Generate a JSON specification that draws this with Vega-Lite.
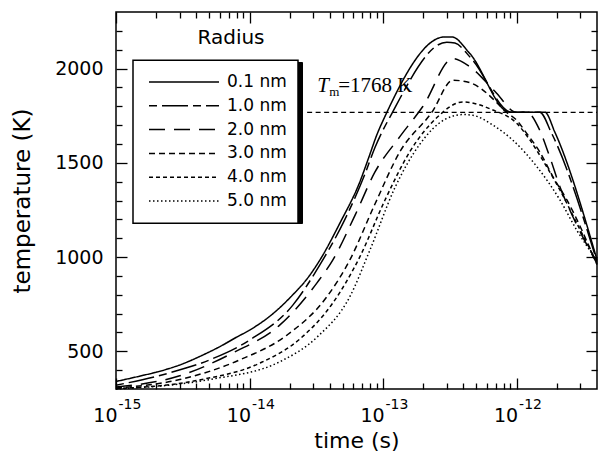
{
  "$schema": "https://vega.github.io/schema/vega-lite/v6.json",
  "width": 481,
  "height": 377,
  "autosize": {"type": "none"},
  "padding": {"left": 116, "top": 12, "right": 4, "bottom": 66},
  "background": "white",
  "config": {
    "view": {"stroke": "black", "strokeWidth": 1.5},
    "font": "DejaVu Sans",
    "axis": {"labelFont": "DejaVu Sans", "titleFont": "DejaVu Sans", "labelColor": "black", "titleColor": "black", "tickColor": "black", "tickWidth": 1.3, "domain": false, "grid": false, "labelFlush": false, "labelOverlap": false, "labelBound": false},
    "legend": {"labelFont": "DejaVu Sans", "titleFont": "DejaVu Sans", "labelColor": "black", "titleColor": "black"}
  },
  "datasets": {
    "curves": [
      {"radius": "0.1 nm", "time": 1e-15, "temperature": 340},
      {"radius": "0.1 nm", "time": 1.5e-15, "temperature": 368},
      {"radius": "0.1 nm", "time": 2.33e-15, "temperature": 402},
      {"radius": "0.1 nm", "time": 3.2e-15, "temperature": 435},
      {"radius": "0.1 nm", "time": 4.25e-15, "temperature": 473},
      {"radius": "0.1 nm", "time": 6e-15, "temperature": 525},
      {"radius": "0.1 nm", "time": 8e-15, "temperature": 575},
      {"radius": "0.1 nm", "time": 1.01e-14, "temperature": 614},
      {"radius": "0.1 nm", "time": 1.5e-14, "temperature": 700},
      {"radius": "0.1 nm", "time": 2.11e-14, "temperature": 800},
      {"radius": "0.1 nm", "time": 2.7e-14, "temperature": 885},
      {"radius": "0.1 nm", "time": 3.37e-14, "temperature": 985},
      {"radius": "0.1 nm", "time": 4.75e-14, "temperature": 1180},
      {"radius": "0.1 nm", "time": 6.71e-14, "temperature": 1400},
      {"radius": "0.1 nm", "time": 7.83e-14, "temperature": 1530},
      {"radius": "0.1 nm", "time": 9e-14, "temperature": 1650},
      {"radius": "0.1 nm", "time": 1.03e-13, "temperature": 1744},
      {"radius": "0.1 nm", "time": 2.9e-13, "temperature": 2168},
      {"radius": "0.1 nm", "time": 3.27e-13, "temperature": 2168},
      {"radius": "0.1 nm", "time": 4.46e-13, "temperature": 2080},
      {"radius": "0.1 nm", "time": 8.89e-13, "temperature": 1768},
      {"radius": "0.1 nm", "time": 1.63e-12, "temperature": 1768},
      {"radius": "0.1 nm", "time": 1.93e-12, "temperature": 1664},
      {"radius": "0.1 nm", "time": 4e-12, "temperature": 985},

      {"radius": "1.0 nm", "time": 1e-15, "temperature": 320},
      {"radius": "1.0 nm", "time": 2.5e-15, "temperature": 385},
      {"radius": "1.0 nm", "time": 5.05e-15, "temperature": 455},
      {"radius": "1.0 nm", "time": 1.01e-14, "temperature": 561},
      {"radius": "1.0 nm", "time": 2.11e-14, "temperature": 745},
      {"radius": "1.0 nm", "time": 3.37e-14, "temperature": 960},
      {"radius": "1.0 nm", "time": 5.18e-14, "temperature": 1200},
      {"radius": "1.0 nm", "time": 7.31e-14, "temperature": 1440},
      {"radius": "1.0 nm", "time": 8.68e-14, "temperature": 1580},
      {"radius": "1.0 nm", "time": 1.16e-13, "temperature": 1760},
      {"radius": "1.0 nm", "time": 3.0e-13, "temperature": 2140},
      {"radius": "1.0 nm", "time": 3.45e-13, "temperature": 2135},
      {"radius": "1.0 nm", "time": 4.62e-13, "temperature": 2050},
      {"radius": "1.0 nm", "time": 9.21e-13, "temperature": 1768},
      {"radius": "1.0 nm", "time": 1.49e-12, "temperature": 1768},
      {"radius": "1.0 nm", "time": 1.83e-12, "temperature": 1656},
      {"radius": "1.0 nm", "time": 4e-12, "temperature": 975},

      {"radius": "2.0 nm", "time": 1e-15, "temperature": 310},
      {"radius": "2.0 nm", "time": 3e-15, "temperature": 370},
      {"radius": "2.0 nm", "time": 7.51e-15, "temperature": 492},
      {"radius": "2.0 nm", "time": 1.69e-14, "temperature": 640},
      {"radius": "2.0 nm", "time": 3.2e-14, "temperature": 863},
      {"radius": "2.0 nm", "time": 4.21e-14, "temperature": 985},
      {"radius": "2.0 nm", "time": 6.15e-14, "temperature": 1220},
      {"radius": "2.0 nm", "time": 8.68e-14, "temperature": 1450},
      {"radius": "2.0 nm", "time": 1.34e-13, "temperature": 1640},
      {"radius": "2.0 nm", "time": 1.99e-13, "temperature": 1800},
      {"radius": "2.0 nm", "time": 3.33e-13, "temperature": 2053},
      {"radius": "2.0 nm", "time": 4.46e-13, "temperature": 2010},
      {"radius": "2.0 nm", "time": 6.87e-13, "temperature": 1880},
      {"radius": "2.0 nm", "time": 1.0e-12, "temperature": 1768},
      {"radius": "2.0 nm", "time": 1.19e-12, "temperature": 1768},
      {"radius": "2.0 nm", "time": 1.49e-12, "temperature": 1673},
      {"radius": "2.0 nm", "time": 1.77e-12, "temperature": 1532},
      {"radius": "2.0 nm", "time": 2.11e-12, "temperature": 1373},
      {"radius": "2.0 nm", "time": 2.64e-12, "temperature": 1214},
      {"radius": "2.0 nm", "time": 4e-12, "temperature": 965},

      {"radius": "3.0 nm", "time": 1e-15, "temperature": 305},
      {"radius": "3.0 nm", "time": 3e-15, "temperature": 350},
      {"radius": "3.0 nm", "time": 8.48e-15, "temperature": 455},
      {"radius": "3.0 nm", "time": 1.9e-14, "temperature": 585},
      {"radius": "3.0 nm", "time": 3.8e-14, "temperature": 790},
      {"radius": "3.0 nm", "time": 5.64e-14, "temperature": 985},
      {"radius": "3.0 nm", "time": 8.68e-14, "temperature": 1280},
      {"radius": "3.0 nm", "time": 1.34e-13, "temperature": 1560},
      {"radius": "3.0 nm", "time": 2.32e-13, "temperature": 1768},
      {"radius": "3.0 nm", "time": 3.33e-13, "temperature": 1938},
      {"radius": "3.0 nm", "time": 4.46e-13, "temperature": 1925},
      {"radius": "3.0 nm", "time": 6.87e-13, "temperature": 1830},
      {"radius": "3.0 nm", "time": 8.16e-13, "temperature": 1775},
      {"radius": "3.0 nm", "time": 1.0e-12, "temperature": 1726},
      {"radius": "3.0 nm", "time": 1.19e-12, "temperature": 1656},
      {"radius": "3.0 nm", "time": 1.49e-12, "temperature": 1558},
      {"radius": "3.0 nm", "time": 1.87e-12, "temperature": 1426},
      {"radius": "3.0 nm", "time": 2.38e-12, "temperature": 1303},
      {"radius": "3.0 nm", "time": 4e-12, "temperature": 960},

      {"radius": "4.0 nm", "time": 1e-15, "temperature": 302},
      {"radius": "4.0 nm", "time": 4e-15, "temperature": 345},
      {"radius": "4.0 nm", "time": 1.2e-14, "temperature": 438},
      {"radius": "4.0 nm", "time": 2.38e-14, "temperature": 565},
      {"radius": "4.0 nm", "time": 4.21e-14, "temperature": 757},
      {"radius": "4.0 nm", "time": 6.71e-14, "temperature": 1002},
      {"radius": "4.0 nm", "time": 1.03e-13, "temperature": 1300},
      {"radius": "4.0 nm", "time": 1.59e-13, "temperature": 1560},
      {"radius": "4.0 nm", "time": 2.53e-13, "temperature": 1740},
      {"radius": "4.0 nm", "time": 3.96e-13, "temperature": 1823},
      {"radius": "4.0 nm", "time": 6.64e-13, "temperature": 1780},
      {"radius": "4.0 nm", "time": 1.0e-12, "temperature": 1710},
      {"radius": "4.0 nm", "time": 1.26e-12, "temperature": 1620},
      {"radius": "4.0 nm", "time": 1.68e-12, "temperature": 1479},
      {"radius": "4.0 nm", "time": 2.11e-12, "temperature": 1356},
      {"radius": "4.0 nm", "time": 2.82e-12, "temperature": 1180},
      {"radius": "4.0 nm", "time": 4e-12, "temperature": 970},

      {"radius": "5.0 nm", "time": 1e-15, "temperature": 300},
      {"radius": "5.0 nm", "time": 5e-15, "temperature": 350},
      {"radius": "5.0 nm", "time": 1.69e-14, "temperature": 445},
      {"radius": "5.0 nm", "time": 3.2e-14, "temperature": 575},
      {"radius": "5.0 nm", "time": 5.64e-14, "temperature": 790},
      {"radius": "5.0 nm", "time": 7.97e-14, "temperature": 1037},
      {"radius": "5.0 nm", "time": 1.23e-13, "temperature": 1370},
      {"radius": "5.0 nm", "time": 1.89e-13, "temperature": 1600},
      {"radius": "5.0 nm", "time": 2.9e-13, "temperature": 1730},
      {"radius": "5.0 nm", "time": 3.96e-13, "temperature": 1756},
      {"radius": "5.0 nm", "time": 4.7e-13, "temperature": 1752},
      {"radius": "5.0 nm", "time": 6.64e-13, "temperature": 1700},
      {"radius": "5.0 nm", "time": 9.37e-13, "temperature": 1620},
      {"radius": "5.0 nm", "time": 1.42e-12, "temperature": 1479},
      {"radius": "5.0 nm", "time": 2.11e-12, "temperature": 1303},
      {"radius": "5.0 nm", "time": 2.82e-12, "temperature": 1143},
      {"radius": "5.0 nm", "time": 4e-12, "temperature": 980}
    ],
    "radii": [
      {"radius": "0.1 nm", "nm": 0.1}, {"radius": "1.0 nm", "nm": 1.0}, {"radius": "2.0 nm", "nm": 2.0},
      {"radius": "3.0 nm", "nm": 3.0}, {"radius": "4.0 nm", "nm": 4.0}, {"radius": "5.0 nm", "nm": 5.0}
    ],
    "melting": [
      {"start": 2.7e-14, "end": 4e-12, "Tm": 1768}
    ]
  },
  "resolve": {"axis": {"x": "independent", "y": "independent"}},
  "layer": [
    {
      "data": {"name": "curves"},
      "mark": {"type": "line", "stroke": "black", "strokeWidth": 1.5, "interpolate": "monotone"},
      "encoding": {
        "x": {
          "field": "time", "type": "quantitative",
          "scale": {"type": "log", "domain": [1e-15, 4e-12], "nice": false},
          "axis": {
            "orient": "bottom",
            "values": [1e-15,2e-15,3e-15,4e-15,5e-15,6e-15,7e-15,8e-15,9e-15,1e-14,2e-14,3e-14,4e-14,5e-14,6e-14,7e-14,8e-14,9e-14,1e-13,2e-13,3e-13,4e-13,5e-13,6e-13,7e-13,8e-13,9e-13,1e-12,2e-12,3e-12],
            "tickSize": {"condition": {"test": "abs(log(datum.value)/LN10 - round(log(datum.value)/LN10)) < 0.001", "value": -11}, "value": -6},
            "labelExpr": "abs(log(datum.value)/LN10 - round(log(datum.value)/LN10)) < 0.001 ? '10' : ''",
            "labelFontSize": 19, "labelAlign": "right", "labelBaseline": "alphabetic",
            "labelPadding": 43, "labelOffset": 1,
            "title": "time (s)", "titleFontSize": 22, "titleFontWeight": "normal", "titlePadding": 0
          }
        },
        "y": {
          "field": "temperature", "type": "quantitative",
          "scale": {"domain": [300, 2300], "nice": false, "zero": false},
          "axis": {
            "orient": "left",
            "values": [400,500,600,700,800,900,1000,1100,1200,1300,1400,1500,1600,1700,1800,1900,2000,2100,2200],
            "tickSize": {"condition": {"test": "datum.value % 500 === 0", "value": -11}, "value": -6},
            "labelExpr": "datum.value % 500 === 0 ? '' + datum.value : ''",
            "labelFontSize": 19, "labelAlign": "right", "labelBaseline": "middle", "labelPadding": 24,
            "title": "temperature (K)", "titleFontSize": 23, "titleFontWeight": "normal", "titlePadding": 20
          }
        },
        "strokeDash": {
          "field": "radius", "type": "nominal",
          "scale": {"range": [[1, 0], [8, 5, 26, 5], [16, 9], [6, 4], [4, 3], [1.5, 2.5]]},
          "legend": {
            "title": null, "orient": "none", "legendX": 32, "legendY": 60.5, "padding": 0,
            "symbolType": "stroke", "symbolSize": 4900, "symbolStrokeWidth": 1.5, "symbolStrokeColor": "black",
            "clipHeight": 19, "rowPadding": 4.8,
            "labelFontSize": 17, "labelOffset": 7, "zindex": 3
          }
        }
      }
    },
    {
      "data": {"name": "melting"},
      "mark": {"type": "rule", "stroke": "black", "strokeWidth": 1.3, "strokeDash": [5, 3.5]},
      "encoding": {
        "x": {
          "field": "start", "type": "quantitative",
          "axis": {
            "orient": "top", "title": null, "labels": false,
            "values": [1e-15,2e-15,3e-15,4e-15,5e-15,6e-15,7e-15,8e-15,9e-15,1e-14,2e-14,3e-14,4e-14,5e-14,6e-14,7e-14,8e-14,9e-14,1e-13,2e-13,3e-13,4e-13,5e-13,6e-13,7e-13,8e-13,9e-13,1e-12,2e-12,3e-12],
            "tickSize": {"condition": {"test": "abs(log(datum.value)/LN10 - round(log(datum.value)/LN10)) < 0.001", "value": -11}, "value": -6}
          }
        },
        "x2": {"field": "end"},
        "y": {"field": "Tm", "type": "quantitative", "axis": null}
      }
    },
    {
      "data": {"name": "melting"},
      "mark": {"type": "text", "text": "T", "font": "Liberation Serif", "fontStyle": "italic", "fontSize": 21, "align": "left", "baseline": "alphabetic", "dx": 10, "dy": -20, "color": "black"},
      "encoding": {
        "x": {
          "field": "start", "type": "quantitative",
          "axis": {
            "orient": "bottom", "title": null, "ticks": false,
            "values": [1e-15, 1e-14, 1e-13, 1e-12],
            "labelExpr": "'' + round(log(datum.value)/LN10)",
            "labelFontSize": 14, "labelAlign": "left", "labelBaseline": "alphabetic",
            "labelPadding": 19, "labelOffset": 2
          }
        },
        "y": {
          "field": "Tm", "type": "quantitative",
          "axis": {
            "orient": "right", "title": null, "labels": false,
            "values": [400,500,600,700,800,900,1000,1100,1200,1300,1400,1500,1600,1700,1800,1900,2000,2100,2200],
            "tickSize": {"condition": {"test": "datum.value % 500 === 0", "value": -11}, "value": -6}
          }
        }
      }
    },
    {
      "data": {"name": "melting"},
      "mark": {"type": "text", "text": "m", "font": "Liberation Serif", "fontSize": 13, "align": "left", "baseline": "alphabetic", "dx": 22, "dy": -16, "color": "black"},
      "encoding": {
        "x": {"field": "start", "type": "quantitative", "axis": null},
        "y": {"field": "Tm", "type": "quantitative", "axis": null}
      }
    },
    {
      "data": {"name": "melting"},
      "mark": {"type": "text", "text": "=1768 K", "font": "Liberation Serif", "fontSize": 21, "align": "left", "baseline": "alphabetic", "dx": 31, "dy": -20, "color": "black"},
      "encoding": {
        "x": {"field": "start", "type": "quantitative", "axis": null},
        "y": {"field": "Tm", "type": "quantitative", "axis": null}
      }
    },
    {
      "data": {"name": "radii"},
      "mark": {"type": "point", "size": 0, "strokeWidth": 0, "opacity": 0},
      "encoding": {
        "fill": {
          "field": "nm", "type": "quantitative",
          "scale": {"domain": [0, 5], "range": ["white", "white"]},
          "legend": {
            "title": "Radius", "titleFontSize": 20, "titleFontWeight": "normal", "titleAnchor": "middle", "titlePadding": 12,
            "orient": "none", "legendX": 17, "legendY": 16.3, "padding": 0,
            "direction": "vertical", "gradientLength": 163, "gradientThickness": 165,
            "gradientStrokeColor": "black", "gradientStrokeWidth": 1.5,
            "labelExpr": "datum.value === 0 ? 'nm' : ''", "labelFontSize": 17, "labelOffset": 4,
            "labelOpacity": 0, "labelOverlap": false, "zindex": 2
          }
        }
      }
    },
    {
      "data": {"name": "radii"},
      "mark": {"type": "point", "size": 0},
      "encoding": {
        "strokeWidth": {
          "field": "radius", "type": "ordinal",
          "scale": {"domain": ["0.1 nm", "1.0 nm", "2.0 nm", "3.0 nm", "4.0 nm", "5.0 nm"], "range": [0, 0]},
          "legend": {
            "title": null, "orient": "none", "legendX": 21, "legendY": 50, "padding": 12,
            "fillColor": "black", "strokeColor": "black",
            "symbolType": "stroke", "symbolSize": 18225, "clipHeight": 19, "rowPadding": 10.4,
            "labelExpr": "''", "labelFontSize": 17, "labelOffset": 6, "zindex": 1
          }
        }
      }
    }
  ]
}
